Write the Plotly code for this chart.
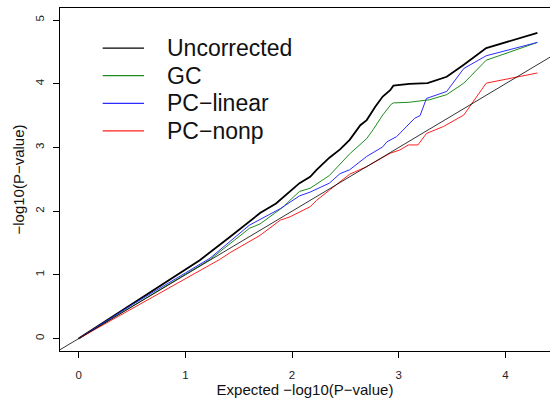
import plotly.graph_objects as go

# ---- data ----
series_names = ["Uncorrected", "GC", "PC\u2212linear", "PC\u2212nonp"]
series_colors = ["#000000", "#1E8C1E", "#2B2BFF", "#FF2020"]
series_widths = [1.8, 1.0, 1.0, 1.0]

x_unc = [0, 0.5, 1.0, 1.135, 1.42, 1.6, 1.70, 1.85, 1.98, 2.07, 2.17, 2.23, 2.35, 2.45, 2.54,
         2.64, 2.70, 2.78, 2.85, 2.92, 2.95, 3.10, 3.27, 3.35, 3.45, 3.61, 3.82, 4.30]
y_unc = [0, 0.54, 1.08, 1.23, 1.60, 1.84, 1.97, 2.12, 2.30, 2.44, 2.54, 2.65, 2.84, 2.97, 3.12,
         3.35, 3.43, 3.64, 3.80, 3.90, 3.97, 4.00, 4.01, 4.05, 4.11, 4.30, 4.56, 4.80]

x_gc = [0, 0.5, 1.0, 1.23, 1.6, 1.70, 1.92, 1.98, 2.07, 2.17, 2.35, 2.54, 2.70, 2.76, 2.82,
        2.85, 2.93, 2.95, 3.10, 3.29, 3.45, 3.61, 3.82, 4.30]
y_gc = [0, 0.51, 1.01, 1.24, 1.73, 1.80, 2.07, 2.17, 2.31, 2.36, 2.56, 2.90, 3.14, 3.28, 3.43,
        3.51, 3.68, 3.70, 3.71, 3.75, 3.83, 4.01, 4.37, 4.65]

x_pcl = [0, 0.5, 1.0, 1.23, 1.6, 1.89, 2.07, 2.17, 2.35, 2.45, 2.54, 2.70, 2.85, 2.89, 2.98,
         3.10, 3.15, 3.20, 3.26, 3.45, 3.61, 3.82, 4.30]
y_pcl = [0, 0.53, 1.03, 1.26, 1.78, 2.04, 2.24, 2.30, 2.44, 2.59, 2.65, 2.86, 3.01, 3.09, 3.17,
         3.38, 3.46, 3.50, 3.77, 3.88, 4.24, 4.44, 4.65]

x_pcn = [0, 0.5, 1.0, 1.12, 1.32, 1.42, 1.70, 1.89, 1.98, 2.17, 2.23, 2.35, 2.54, 2.70, 2.92,
         3.01, 3.09, 3.18, 3.26, 3.42, 3.61, 3.82, 4.11, 4.30]
y_pcn = [0, 0.47, 0.94, 1.05, 1.24, 1.35, 1.62, 1.86, 1.91, 2.07, 2.17, 2.33, 2.58, 2.70, 2.91,
         2.96, 3.04, 3.04, 3.22, 3.33, 3.51, 4.01, 4.10, 4.17]

diag = [-1, 6]  # y = x reference line

x_ticks = [0, 1, 2, 3, 4]
y_ticks = [0, 1, 2, 3, 4, 5]
x_title = "Expected \u2212log10(P\u2212value)"
y_title = "\u2212log10(P\u2212value)"

xs = [x_unc, x_gc, x_pcl, x_pcn]
ys = [y_unc, y_gc, y_pcl, y_pcn]

FONT = "Liberation Sans, Arial, Helvetica, sans-serif"

fig = go.Figure()
for x, y, name, col, w in zip(xs, ys, series_names, series_colors, series_widths):
    fig.add_trace(go.Scatter(x=x, y=y, mode="lines", name=name,
                             line=dict(color=col, width=w), showlegend=False))
fig.add_trace(go.Scatter(x=diag, y=diag, mode="lines", line=dict(color="#000000", width=0.8),
                         showlegend=False, hoverinfo="skip"))

# manual R-style legend (no box)
leg_y = [0.883, 0.803, 0.722, 0.642]
for i in range(len(series_names)):
    fig.add_shape(type="line", xref="paper", yref="paper", x0=0.0871, x1=0.1714,
                  y0=leg_y[i], y1=leg_y[i], layer="above",
                  line=dict(color=series_colors[i], width=1.3))
    fig.add_annotation(xref="paper", yref="paper", x=0.2143, y=leg_y[i], text=series_names[i],
                       showarrow=False, xanchor="left", yanchor="middle",
                       font=dict(family=FONT, size=23, color="#111"))

fig.update_layout(
    width=550, height=399,
    margin=dict(l=60, r=0, t=8, b=48, autoexpand=False),
    plot_bgcolor="white", paper_bgcolor="white",
    font=dict(family=FONT, color="#111"),
)
fig.update_xaxes(range=[-0.175, 4.418], tickvals=x_ticks, ticks="outside", ticklen=6,
                 tickcolor="#000", showgrid=False, zeroline=False, showline=True, mirror=True,
                 linecolor="#000", linewidth=1, tickfont=dict(size=11.5, color="#222"),
                 ticklabelstandoff=7, automargin=False,
                 title=dict(text=x_title, font=dict(size=15, color="#111"), standoff=1))
fig.update_yaxes(range=[-0.195, 5.19], tickvals=y_ticks, ticks="outside", ticklen=6,
                 tickcolor="#000", showgrid=False, zeroline=False, showline=True, mirror=False,
                 linecolor="#000", linewidth=1, tickangle=-90, tickfont=dict(size=11.5, color="#222"),
                 ticklabelstandoff=4, automargin=False,
                 title=dict(text=y_title, font=dict(size=15, color="#111"), standoff=6))

fig.write_html("out.html", config={"displayModeBar": False},
               post_script="document.body.style.margin='0';document.body.style.padding='0';")
